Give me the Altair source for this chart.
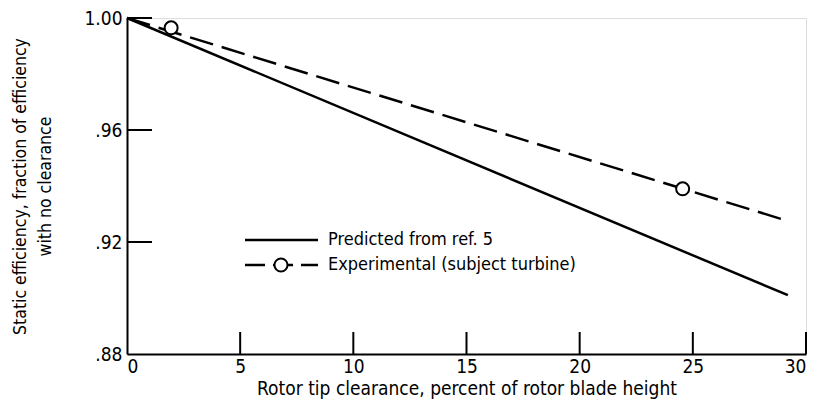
import altair as alt
import pandas as pd

# Data
pred_x = [0.0, 29.2]
pred_y = [1.000, 0.901]
exp_x = [0.0, 29.2]
exp_y = [1.000, 0.9275]
pt_x = [1.95, 24.55]
pt_y = [0.9965, 0.939]
x_ticks = [5, 10, 15, 20, 25, 30]
y_ticks = [0.92, 0.96, 1.00]

FONT = "Liberation Sans Narrow, DejaVu Sans Condensed, sans-serif"
W, H = 679, 336

xs = alt.Scale(domain=[0, 30], nice=False, zero=False)
ys = alt.Scale(domain=[0.88, 1.00], nice=False, zero=False)

pred = pd.DataFrame({"x": pred_x, "y": pred_y})
exp = pd.DataFrame({"x": exp_x, "y": exp_y})
pts = pd.DataFrame({"x": pt_x, "y": pt_y})

xaxis = alt.Axis(values=[0, 5, 10, 15, 20, 25, 30], ticks=False, grid=False,
                 domainColor="black", domainWidth=2, labelFont=FONT, labelFontSize=19,
                 labelColor="black", labelPadding=3,
                 title="Rotor tip clearance, percent of rotor blade height",
                 titleFont=FONT, titleFontSize=19, titleFontWeight="normal",
                 titleColor="black", titlePadding=3)
yaxis = alt.Axis(values=[0.88, 0.92, 0.96, 1.00], ticks=False, grid=False,
                 domainColor="black", domainWidth=2, labelFont=FONT, labelFontSize=19,
                 labelColor="black", labelPadding=5,
                 labelExpr="datum.value >= 1 ? '1.00' : '.' + substring(format(datum.value, '.2f'), 2)",
                 title=["Static efficiency, fraction of efficiency", "with no clearance"],
                 titleFont=FONT, titleFontSize=17.5, titleFontWeight="normal",
                 titleColor="black", titlePadding=29, titleLineHeight=25)

base_pred = alt.Chart(pred).mark_line(color="black", strokeWidth=2.5).encode(
    x=alt.X("x:Q", scale=xs, axis=xaxis),
    y=alt.Y("y:Q", scale=ys, axis=yaxis),
)
line_exp = alt.Chart(exp).mark_line(color="black", strokeWidth=2.5, strokeDash=[24, 9]).encode(
    x=alt.X("x:Q", scale=xs), y=alt.Y("y:Q", scale=ys)
)
circ = alt.Chart(pts).mark_point(shape="circle", size=170, filled=True, fill="white",
                                 stroke="black", strokeWidth=2, opacity=1).encode(
    x=alt.X("x:Q", scale=xs), y=alt.Y("y:Q", scale=ys)
)

xt = pd.DataFrame({"x": x_ticks})
xtick = alt.Chart(xt).mark_rule(color="black", strokeWidth=2).encode(
    x=alt.X("x:Q", scale=xs), y=alt.value(H), y2=alt.value(H - 22)
)
yt = pd.DataFrame({"y": y_ticks})
ytick = alt.Chart(yt).mark_rule(color="black", strokeWidth=2).encode(
    y=alt.Y("y:Q", scale=ys), x=alt.value(0), x2=alt.value(25)
)

# legend
leg1 = alt.Chart(pd.DataFrame({"a": [0]})).mark_rule(color="black", strokeWidth=2.5).encode(
    x=alt.value(118), x2=alt.value(191), y=alt.value(222)
)
leg2 = alt.Chart(pd.DataFrame({"a": [0]})).mark_rule(color="black", strokeWidth=2.5, strokeDash=[20, 8]).encode(
    x=alt.value(118), x2=alt.value(191), y=alt.value(247)
)
leg2c = alt.Chart(pd.DataFrame({"a": [0]})).mark_point(shape="circle", size=170, filled=True, fill="white",
                                                      stroke="black", strokeWidth=2, opacity=1).encode(
    x=alt.value(154), y=alt.value(247)
)
legtext = alt.Chart(pd.DataFrame({"t": ["Predicted from ref. 5", "Experimental (subject turbine)"],
                                  "yy": [222, 247]})).mark_text(
    align="left", baseline="middle", font=FONT, fontSize=18, color="black").encode(
    x=alt.value(201), y=alt.Y("yy:Q", scale=None), text="t:N"
)

chart = alt.layer(base_pred, line_exp, circ, xtick, ytick, leg1, leg2, leg2c, legtext).properties(
    width=W, height=H,
    autosize=alt.AutoSizeParams(type="none"),
    padding={"left": 119, "top": 10, "right": 5, "bottom": 48},
).configure_view(stroke=None).configure(background="white")

chart.save("out.html", embed_options={"renderer": "svg", "actions": False})
